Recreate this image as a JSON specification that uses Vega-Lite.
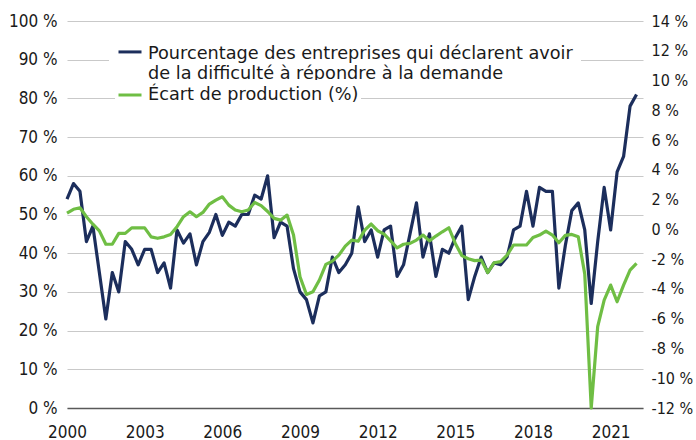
{
  "$schema": "https://vega.github.io/schema/vega-lite/v6.json",
  "width": 576,
  "height": 387,
  "autosize": "none",
  "padding": {"left": 67, "top": 21, "right": 53, "bottom": 32},
  "background": "white",
  "config": {
    "view": {"stroke": null},
    "axis": {"labelFont": "DejaVu Sans Condensed", "labelFontSize": 17, "labelColor": "#1a1a1a", "ticks": false, "title": null}
  },
  "data": {"values": [
    {"t": 2000.00, "bos": 54, "gap": 1.1},
    {"t": 2000.25, "bos": 58, "gap": 1.35},
    {"t": 2000.50, "bos": 56, "gap": 1.45},
    {"t": 2000.75, "bos": 43, "gap": 0.85},
    {"t": 2001.00, "bos": 47, "gap": 0.35},
    {"t": 2001.25, "bos": 35, "gap": -0.1},
    {"t": 2001.50, "bos": 23, "gap": -1.0},
    {"t": 2001.75, "bos": 35, "gap": -1.0},
    {"t": 2002.00, "bos": 30, "gap": -0.27},
    {"t": 2002.25, "bos": 43, "gap": -0.27},
    {"t": 2002.50, "bos": 41, "gap": 0.1},
    {"t": 2002.75, "bos": 37, "gap": 0.1},
    {"t": 2003.00, "bos": 41, "gap": 0.1},
    {"t": 2003.25, "bos": 41, "gap": -0.5},
    {"t": 2003.50, "bos": 35, "gap": -0.6},
    {"t": 2003.75, "bos": 37.5, "gap": -0.5},
    {"t": 2004.00, "bos": 31, "gap": -0.35},
    {"t": 2004.25, "bos": 46, "gap": 0.18},
    {"t": 2004.50, "bos": 42.6, "gap": 0.85},
    {"t": 2004.75, "bos": 45, "gap": 1.18},
    {"t": 2005.00, "bos": 37, "gap": 0.85},
    {"t": 2005.25, "bos": 43, "gap": 1.14},
    {"t": 2005.50, "bos": 45.4, "gap": 1.7},
    {"t": 2005.75, "bos": 50, "gap": 1.97},
    {"t": 2006.00, "bos": 44.6, "gap": 2.19},
    {"t": 2006.25, "bos": 48, "gap": 1.63},
    {"t": 2006.50, "bos": 47, "gap": 1.3},
    {"t": 2006.75, "bos": 50, "gap": 1.18},
    {"t": 2007.00, "bos": 50, "gap": 1.3},
    {"t": 2007.25, "bos": 55, "gap": 1.81},
    {"t": 2007.50, "bos": 54, "gap": 1.6},
    {"t": 2007.75, "bos": 60, "gap": 1.2},
    {"t": 2008.00, "bos": 44, "gap": 0.74},
    {"t": 2008.25, "bos": 48, "gap": 0.62},
    {"t": 2008.50, "bos": 47, "gap": 0.96},
    {"t": 2008.75, "bos": 36, "gap": -0.38},
    {"t": 2009.00, "bos": 30, "gap": -3.18},
    {"t": 2009.25, "bos": 28, "gap": -4.37},
    {"t": 2009.50, "bos": 22, "gap": -4.19},
    {"t": 2009.75, "bos": 29, "gap": -3.4},
    {"t": 2010.00, "bos": 30, "gap": -2.35},
    {"t": 2010.25, "bos": 39, "gap": -2.13},
    {"t": 2010.50, "bos": 35, "gap": -1.73},
    {"t": 2010.75, "bos": 37, "gap": -1.12},
    {"t": 2011.00, "bos": 40, "gap": -0.72},
    {"t": 2011.25, "bos": 52, "gap": -0.8},
    {"t": 2011.50, "bos": 43, "gap": -0.05},
    {"t": 2011.75, "bos": 46, "gap": 0.36},
    {"t": 2012.00, "bos": 39, "gap": -0.09},
    {"t": 2012.25, "bos": 46, "gap": -0.32},
    {"t": 2012.50, "bos": 47, "gap": -0.77},
    {"t": 2012.75, "bos": 34, "gap": -1.24},
    {"t": 2013.00, "bos": 37, "gap": -1.0},
    {"t": 2013.25, "bos": 45, "gap": -0.94},
    {"t": 2013.50, "bos": 53, "gap": -0.72},
    {"t": 2013.75, "bos": 39, "gap": -0.38},
    {"t": 2014.00, "bos": 45, "gap": -0.77},
    {"t": 2014.25, "bos": 34, "gap": -0.45},
    {"t": 2014.50, "bos": 41, "gap": -0.16},
    {"t": 2014.75, "bos": 40, "gap": 0.11},
    {"t": 2015.00, "bos": 44, "gap": -0.94},
    {"t": 2015.25, "bos": 47, "gap": -1.76},
    {"t": 2015.50, "bos": 28, "gap": -1.97},
    {"t": 2015.75, "bos": 34, "gap": -2.1},
    {"t": 2016.00, "bos": 39, "gap": -2.06},
    {"t": 2016.25, "bos": 35, "gap": -2.9},
    {"t": 2016.50, "bos": 37.5, "gap": -2.24},
    {"t": 2016.75, "bos": 37, "gap": -2.17},
    {"t": 2017.00, "bos": 39, "gap": -1.73},
    {"t": 2017.25, "bos": 46, "gap": -1.05},
    {"t": 2017.50, "bos": 47, "gap": -1.05},
    {"t": 2017.75, "bos": 56, "gap": -1.05},
    {"t": 2018.00, "bos": 47, "gap": -0.54},
    {"t": 2018.25, "bos": 57, "gap": -0.38},
    {"t": 2018.50, "bos": 56, "gap": -0.11},
    {"t": 2018.75, "bos": 56, "gap": -0.38},
    {"t": 2019.00, "bos": 31, "gap": -0.9},
    {"t": 2019.25, "bos": 42, "gap": -0.4},
    {"t": 2019.50, "bos": 51, "gap": -0.34},
    {"t": 2019.75, "bos": 53, "gap": -0.5},
    {"t": 2020.00, "bos": 46, "gap": -3.0},
    {"t": 2020.25, "bos": 27, "gap": -12.0},
    {"t": 2020.50, "bos": 43, "gap": -6.54},
    {"t": 2020.75, "bos": 57, "gap": -4.75},
    {"t": 2021.00, "bos": 46, "gap": -3.74},
    {"t": 2021.25, "bos": 61, "gap": -4.86},
    {"t": 2021.50, "bos": 65, "gap": -3.74},
    {"t": 2021.75, "bos": 78, "gap": -2.73},
    {"t": 2022.00, "bos": 81, "gap": -2.28}
  ]},
  "layer": [
    {
      "mark": {"type": "line", "strokeWidth": 3.2, "strokeJoin": "round"},
      "encoding": {
        "x": {"field": "t", "type": "quantitative",
          "scale": {"domain": [2000, 2022.25], "nice": false, "zero": false},
          "axis": {"values": [2000, 2003, 2006, 2009, 2012, 2015, 2018, 2021], "format": "d", "grid": false, "domain": true, "domainColor": "#595959", "domainWidth": 1.5, "labelPadding": 16, "labelFlush": false, "labelOverlap": false}},
        "y": {"field": "bos", "type": "quantitative",
          "scale": {"domain": [0, 100], "nice": false},
          "axis": {"orient": "left", "values": [0, 10, 20, 30, 40, 50, 60, 70, 80, 90, 100], "labelExpr": "datum.value + ' %'", "grid": true, "gridColor": "#c9c9c9", "gridWidth": 1, "domain": false, "labelPadding": 10}},
        "color": {"datum": "Pourcentage des entreprises qui déclarent avoir|de la difficulté à répondre à la demande", "type": "nominal",
          "scale": {"range": ["#1c2e5c"]},
          "legend": {"orient": "none", "legendX": 42, "legendY": 12, "title": null, "symbolType": "M-1,-0.18L1,-0.18", "symbolSize": 529, "symbolStrokeWidth": 3, "labelExpr": "split(datum.label, '|')", "labelFont": "DejaVu Sans", "labelFontSize": 17.7, "labelLineHeight": 22, "labelLimit": 700, "labelOffset": 5, "labelColor": "#1a1a1a", "fillColor": "white", "padding": 8}}
      }
    },
    {
      "mark": {"type": "line", "strokeWidth": 3.2, "strokeJoin": "round"},
      "encoding": {
        "x": {"field": "t", "type": "quantitative"},
        "y": {"field": "gap", "type": "quantitative",
          "scale": {"domain": [-12, 14], "nice": false, "zero": false},
          "axis": {"orient": "right", "values": [-12, -10, -8, -6, -4, -2, 0, 2, 4, 6, 8, 10, 12, 14], "labelExpr": "datum.value + ' %'", "grid": false, "domain": false, "labelPadding": 8, "labelFontSize": 16}},
        "color": {"datum": "Écart de production (%)", "type": "nominal",
          "scale": {"range": ["#6fbe44"]},
          "legend": {"orient": "none", "legendX": 48, "legendY": 59, "title": null, "symbolType": "stroke", "symbolSize": 529, "symbolStrokeWidth": 3, "labelFont": "DejaVu Sans", "labelFontSize": 17.7, "labelLimit": 700, "labelOffset": 5, "labelColor": "#1a1a1a", "fillColor": "white", "padding": 2}}
      }
    }
  ],
  "resolve": {"scale": {"y": "independent", "color": "independent"}}
}
